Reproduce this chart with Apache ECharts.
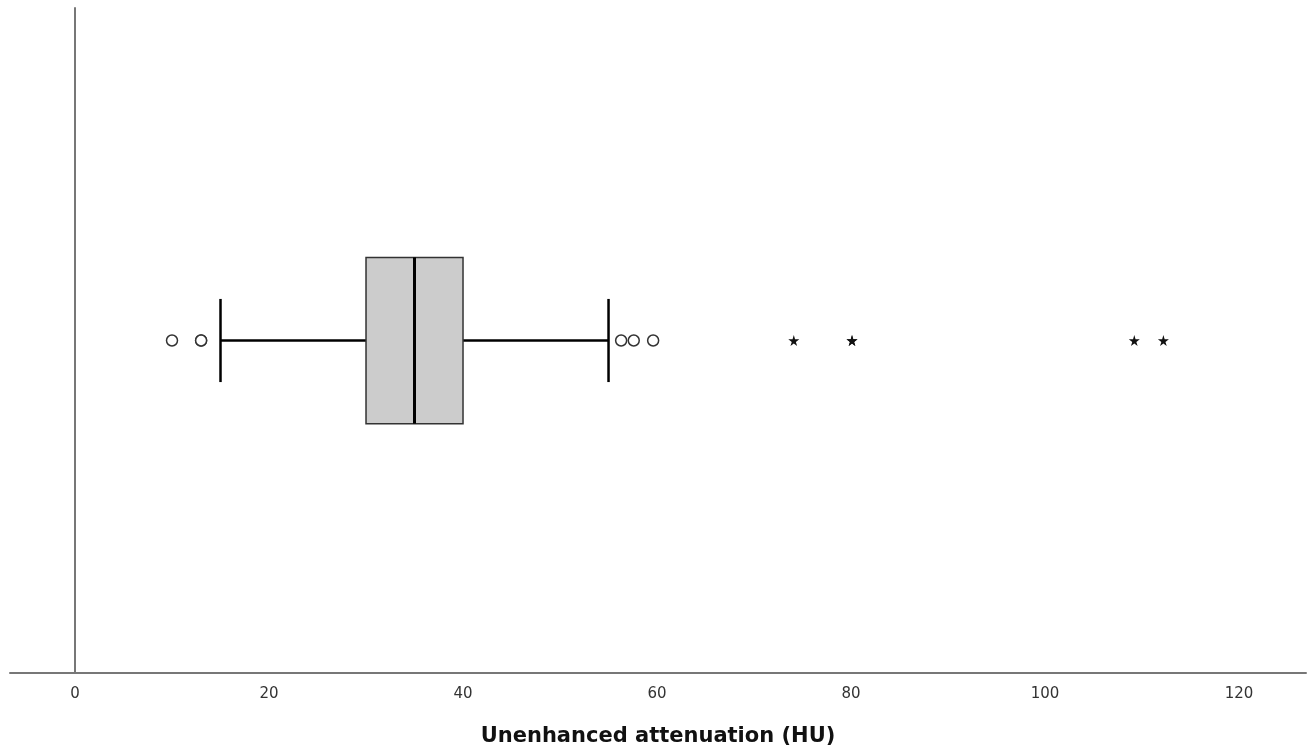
<!DOCTYPE html>
<html>
<head>
<meta charset="utf-8">
<script src="https://cdn.jsdelivr.net/npm/echarts@6/dist/echarts.min.js"></script>
<style>
  html, body { margin: 0; padding: 0; background: #fff; }
  #box { width: 1311px; height: 749px; }
</style>
</head>
<body>
<div id="box"></div>
<script>
// box: whisker low, Q1, median, Q3, whisker high
var boxStats = [15, 30, 35, 40, 55];
// mild outliers (circles), 13 appears twice
var circleOutliers = [10, 13, 13, 56.3, 57.6, 59.6];
// extreme outliers (stars), 80 appears twice
var starOutliers = [74.1, 80.1, 80.1, 109.2, 112.2];
var tickValues = [0, 20, 40, 60, 80, 100, 120];

var starPath = 'path://M50,0 L61,35 L98,35 L68,57 L79,91 L50,70 L21,91 L32,57 L2,35 L39,35 Z';

function renderBox(params, api) {
    var y = api.value(5);
    var pLow = api.coord([api.value(0), y]);
    var pQ1 = api.coord([api.value(1), y]);
    var pMed = api.coord([api.value(2), y]);
    var pQ3 = api.coord([api.value(3), y]);
    var pHigh = api.coord([api.value(4), y]);
    var band = api.size([0, 1])[1];
    var half = band * 0.25 / 2;
    var capHalf = half / 2;
    var cy = pMed[1];
    var line = { stroke: '#000', lineWidth: 2.5 };
    return {
        type: 'group',
        children: [
            { type: 'line', shape: { x1: pLow[0], y1: cy, x2: pQ1[0], y2: cy }, style: line },
            { type: 'line', shape: { x1: pQ3[0], y1: cy, x2: pHigh[0], y2: cy }, style: line },
            { type: 'line', shape: { x1: pLow[0], y1: cy - capHalf, x2: pLow[0], y2: cy + capHalf }, style: line },
            { type: 'line', shape: { x1: pHigh[0], y1: cy - capHalf, x2: pHigh[0], y2: cy + capHalf }, style: line },
            { type: 'rect', shape: { x: pQ1[0], y: cy - half, width: pQ3[0] - pQ1[0], height: half * 2 },
              style: { fill: '#cccccc', stroke: '#333', lineWidth: 1.5 } },
            { type: 'line', shape: { x1: pMed[0], y1: cy - half, x2: pMed[0], y2: cy + half }, style: { stroke: '#000', lineWidth: 3 } }
        ]
    };
}

var chart = echarts.init(document.getElementById('box'));
var option = {
    animation: false,
    grid: { left: 10, right: 5, top: 8, bottom: 76, outerBoundsMode: 'none', containLabel: false },
    xAxis: {
        type: 'value',
        min: -6.7,
        max: 126.9,
        name: 'Unenhanced attenuation (HU)',
        nameLocation: 'middle',
        nameGap: 53,
        nameTextStyle: { fontFamily: 'DejaVu Sans', fontWeight: 'bold', fontSize: 21, color: '#111' },
        splitLine: { show: false },
        axisTick: { show: false },
        axisLine: { show: true, onZero: false, lineStyle: { color: '#777', width: 2 } },
        axisLabel: {
            customValues: tickValues,
            fontFamily: 'DejaVu Sans',
            fontSize: 15,
            color: '#333',
            margin: 14
        }
    },
    yAxis: {
        type: 'category',
        data: ['A'],
        axisLine: { onZero: true, lineStyle: { color: '#777', width: 2 } },
        axisTick: { show: false },
        axisLabel: { show: false },
        splitLine: { show: false }
    },
    series: [
        {
            type: 'custom',
            renderItem: renderBox,
            encode: { x: [0, 1, 2, 3, 4], y: 5 },
            data: [boxStats.concat([0])]
        },
        {
            type: 'scatter',
            symbol: 'circle',
            symbolSize: 11,
            itemStyle: { color: '#fff', borderColor: '#333', borderWidth: 1.5, opacity: 1 },
            data: circleOutliers.map(function (v) { return [v, 0]; })
        },
        {
            type: 'scatter',
            symbol: starPath,
            symbolSize: 11,
            itemStyle: { color: '#111', opacity: 1 },
            data: starOutliers.map(function (v) { return [v, 0]; })
        }
    ]
};
chart.setOption(option);
</script>
</body>
</html>
